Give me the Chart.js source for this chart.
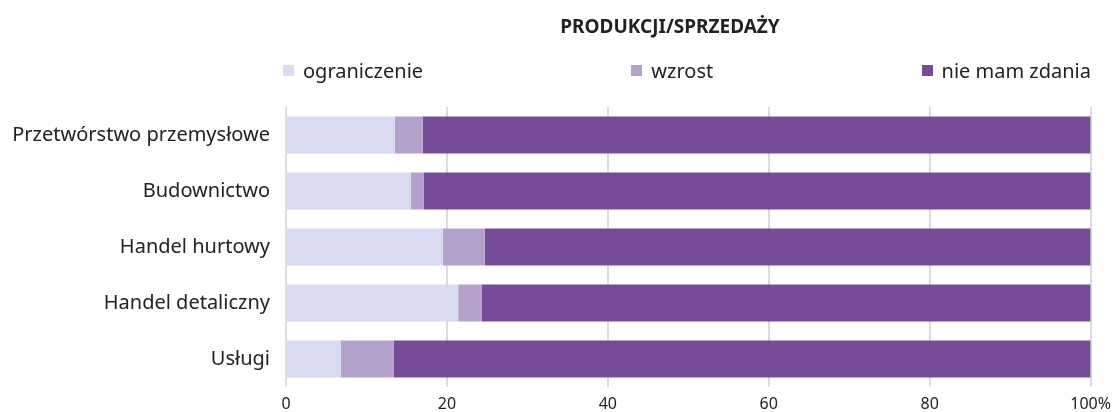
<!DOCTYPE html>
<html>
<head>
<meta charset="utf-8">
<script src="https://cdn.jsdelivr.net/npm/chart.js@4/dist/chart.umd.min.js"></script>
<style>
  body { margin: 0; background: #fff; }
  #wrap { position: relative; width: 1119px; height: 412px; font-family: "Noto Sans", sans-serif; color: #222; }
  #chartTitle { position: absolute; top: 13px; left: 670px; transform: translateX(-50%); font-weight: bold; font-size: 19px; white-space: nowrap; }
  #legend { position: absolute; top: 57px; left: 283px; width: 808px; display: flex; justify-content: space-between; font-size: 20px; }
  #legend span.item { display: flex; align-items: center; white-space: nowrap; }
  #legend span.box { width: 11px; height: 11px; margin-right: 9px; display: inline-block; }
</style>
</head>
<body>
<div id="wrap">
  <canvas id="chart" width="1119" height="412"></canvas>
  <div id="chartTitle">PRODUKCJI/SPRZEDAŻY</div>
  <div id="legend"></div>
</div>
<script>
// Categories and series (percent of answers)
const categories = ['Przetwórstwo przemysłowe', 'Budownictwo', 'Handel hurtowy', 'Handel detaliczny', 'Usługi'];
const seriesNames = ['ograniczenie', 'wzrost', 'nie mam zdania'];
const ograniczenie = [13.5, 15.5, 19.5, 21.4, 6.8];
const wzrost = [3.5, 1.6, 5.2, 2.9, 6.6];
const nieMamZdania = [83.0, 82.9, 75.3, 75.7, 86.6];
const tickLabels = ['0', '20', '40', '60', '80', '100%'];

const colors = ['#d9dbf0', '#b3a1cc', '#764c99'];
const values = [ograniczenie, wzrost, nieMamZdania];

// Simple HTML legend
const legendEl = document.getElementById('legend');
seriesNames.forEach((name, i) => {
    const item = document.createElement('span');
    item.className = 'item';
    item.innerHTML = '<span class="box" style="background:' + colors[i] + '"></span>' + name;
    legendEl.appendChild(item);
});

const ctx = document.getElementById('chart').getContext('2d');
new Chart(ctx, {
    type: 'bar',
    data: {
        labels: categories,
        datasets: seriesNames.map((name, i) => ({
            label: name,
            data: values[i],
            backgroundColor: colors[i],
            borderWidth: 0,
            barPercentage: 0.66,
            categoryPercentage: 1.0
        }))
    },
    options: {
        indexAxis: 'y',
        responsive: false,
        animation: false,
        layout: { padding: { top: 107, right: 27, bottom: 0, left: 0 } },
        plugins: {
            legend: { display: false },
            title: { display: false },
            tooltip: { enabled: false }
        },
        scales: {
            x: {
                stacked: true,
                min: 0,
                max: 100,
                afterFit: (scale) => { scale.height = 25; },
                ticks: {
                    stepSize: 20,
                    padding: 8,
                    color: '#222',
                    font: { family: 'Noto Sans', size: 16 },
                    callback: (value, index) => tickLabels[index]
                },
                grid: { color: '#dcdcdc', lineWidth: 2, drawTicks: false },
                border: { display: false }
            },
            y: {
                stacked: true,
                afterFit: (scale) => { scale.width = 286; },
                ticks: {
                    padding: 8,
                    color: '#222',
                    font: { family: 'Noto Sans', size: 20 }
                },
                grid: { display: false },
                border: { display: false }
            }
        }
    }
});
</script>
</body>
</html>
